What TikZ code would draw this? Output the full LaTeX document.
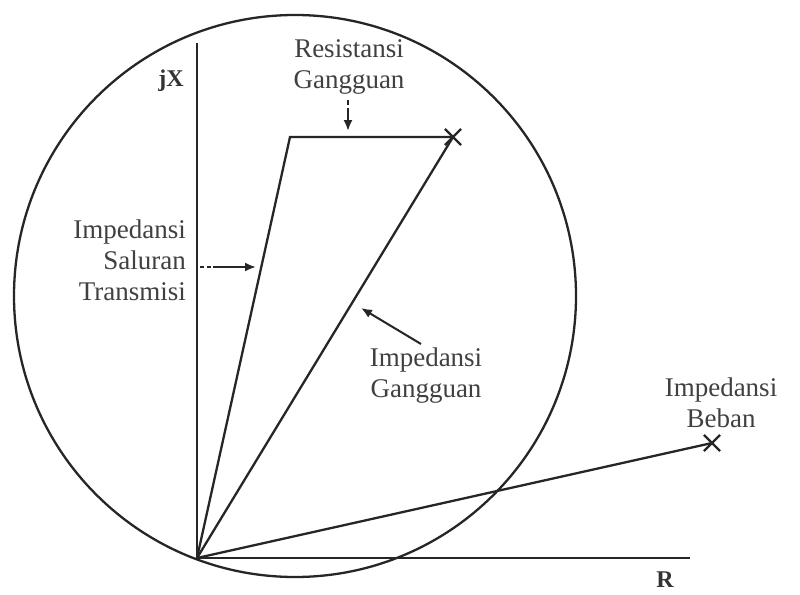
\documentclass[tikz,border=0pt]{standalone}
\usepackage{fontspec}
\setmainfont{Liberation Serif}
\usetikzlibrary{arrows.meta,shapes.misc}
\begin{document}
\begin{tikzpicture}[x=1pt,y=-1pt,
  vec/.style={line width=2.3pt, draw=black!85},
  lbl/.style={font=\fontsize{27}{31}\selectfont, text=black!75, align=center, inner sep=0pt},
  axlbl/.style={font=\fontsize{24}{28}\selectfont\bfseries, text=black!80, inner sep=0pt},
  pointer/.style={line width=2pt, draw=black!85, -{Latex[length=11pt,width=9pt]}},
  xmark/.style={cross out, draw=black!85, line width=2.2pt, minimum size=14pt, inner sep=0pt}]
\useasboundingbox (0,0) rectangle (800,594);
% circle
\coordinate (C) at (295,296);
\draw[vec] (C) circle[radius=281pt];
% origin and axes
\coordinate (O) at (197,558);
\coordinate (Ytop) at (197,43);
\coordinate (Xend) at (690,558);
\draw[vec] (O) -- (Ytop);
\draw[vec] (O) -- (Xend);
\node[axlbl] (jx) at (171,81) {jX};
\node[axlbl] (r) at (665,580) {R};
% points
\coordinate (A) at (290,137);
\node[xmark] (F) at (453,137) {};
\node[xmark] (L) at (712,443) {};
\draw[vec] (O) -- (A) -- (F.center);
\draw[vec] (O) -- (F.center);
\draw[vec] (O) -- (L.center);
% labels
\node[lbl] (res) at (349,67) {Resistansi\\Gangguan};
\node[lbl, align=right, anchor=east] (sal) at (186,260) {Impedansi\\Saluran\\Transmisi};
\node[lbl] (gg) at (426,376) {Impedansi\\Gangguan};
\node[lbl] (beb) at (721,403) {Impedansi\\Beban};
% pointer arrows
\coordinate (r1) at (348,100);
\coordinate (r2) at (348,131);
\draw[pointer, dash pattern=on 5pt off 3pt on 60pt] (r1) -- (r2);
\coordinate (s1) at (200,267);
\coordinate (s2) at (256,267);
\draw[pointer, dash pattern=on 4pt off 3pt on 4pt off 2pt on 80pt] (s1) -- (s2);
\coordinate (g1) at (421,344);
\coordinate (g2) at (361,308);
\draw[pointer] (g1) -- (g2);
\end{tikzpicture}
\end{document}
